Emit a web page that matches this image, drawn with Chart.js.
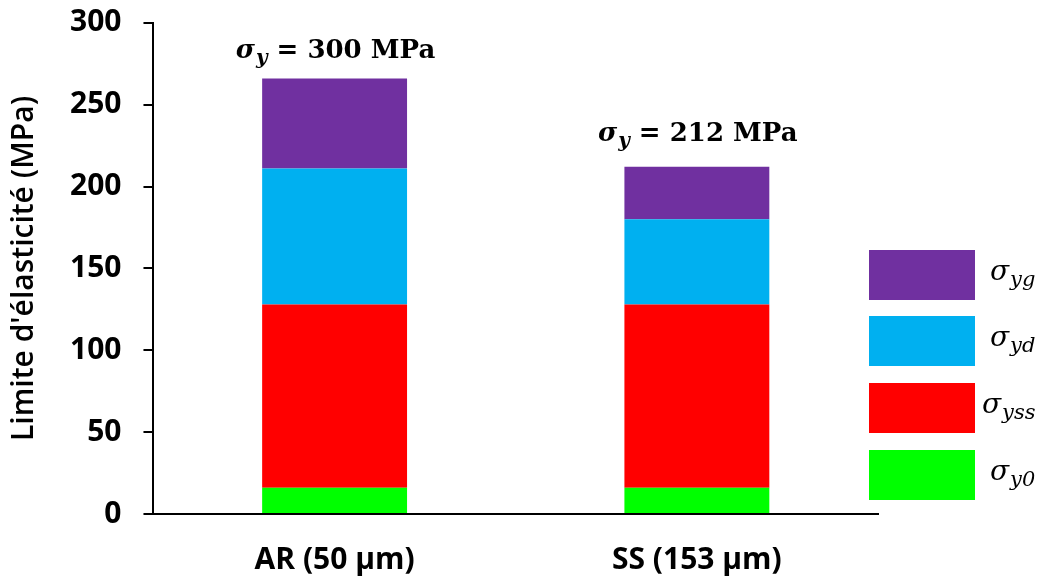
<!DOCTYPE html>
<html>
<head>
<meta charset="utf-8">
<script src="https://cdn.jsdelivr.net/npm/chart.js@4.4.0/dist/chart.umd.min.js"></script>
<style>
  html, body { margin: 0; padding: 0; background: #fff; }
  #wrap { width: 1037px; height: 579px; }
</style>
</head>
<body>
<div id="wrap"><canvas id="yieldChart"></canvas></div>
<script>
const categories = ['AR (50 µm)', 'SS (153 µm)'];
const sigmaY0 = [16, 16];
const sigmaYss = [112, 112];
const sigmaYd = [83, 52];
const sigmaYg = [55, 32];
const totalLabels = ['300', '212'];
const seriesSubs = ['y0', 'yss', 'yd', 'yg'];

const sansFont = "'Open Sans', sans-serif";
const serifFont = "'DejaVu Serif', 'Liberation Serif', serif";

// sigma + subscript, returns x where it ends
function drawSigma(ctx, x, y, sub, size, bold, italic) {
    const style = (italic ? 'italic ' : '') + (bold ? 'bold ' : '');
    ctx.font = style + size + 'px ' + serifFont;
    ctx.textBaseline = 'alphabetic';
    ctx.textAlign = 'left';
    ctx.fillText('σ', x, y);
    const w = ctx.measureText('σ').width;
    ctx.font = style + Math.round(size * 0.75) + 'px ' + serifFont;
    ctx.fillText(sub, x + w + 1, y + size * 0.22);
    return x + w + 1 + ctx.measureText(sub).width;
}

const overlayPlugin = {
    id: 'overlay',
    afterDraw(chart) {
        const ctx = chart.ctx;
        const xs = chart.scales.x;
        const ys = chart.scales.y;
        ctx.save();
        ctx.fillStyle = '#000';

        // totals above the bars
        categories.forEach((c, i) => {
            const top = sigmaY0[i] + sigmaYss[i] + sigmaYd[i] + sigmaYg[i];
            const cx = xs.getPixelForValue(i);
            const base = ys.getPixelForValue(top) - (i === 0 ? 20 : 26);
            const rest = ' = ' + totalLabels[i] + ' MPa';
            ctx.font = 'bold 26px ' + serifFont;
            const restW = ctx.measureText(rest).width;
            const sigW = 30;
            const start = cx - (sigW + restW) / 2;
            const end = drawSigma(ctx, start, base, 'y', 26, true, true);
            ctx.font = 'bold 26px ' + serifFont;
            ctx.fillText(rest, end, base);
        });

        // legend on the right, top entry is the last dataset
        const ds = chart.data.datasets;
        const boxX = 869, boxW = 106, boxH = 50;
        const tops = [250, 316, 383, 450];
        for (let k = 0; k < ds.length; k++) {
            const idx = ds.length - 1 - k;
            ctx.fillStyle = ds[idx].backgroundColor;
            ctx.fillRect(boxX, tops[k], boxW, boxH);
            ctx.fillStyle = '#000';
            drawSigma(ctx, idx === 1 ? 982 : 990, tops[k] + 30, seriesSubs[idx], 28, false, true);
        }
        ctx.restore();
    }
};

new Chart(document.getElementById('yieldChart').getContext('2d'), {
    type: 'bar',
    data: {
        labels: categories,
        datasets: [
            { label: 'σy0', data: sigmaY0, backgroundColor: '#00FF00' },
            { label: 'σyss', data: sigmaYss, backgroundColor: '#FF0000' },
            { label: 'σyd', data: sigmaYd, backgroundColor: '#00B0F0' },
            { label: 'σyg', data: sigmaYg, backgroundColor: '#7030A0' }
        ]
    },
    options: {
        responsive: true,
        maintainAspectRatio: false,
        animation: false,
        datasets: { bar: { categoryPercentage: 1, barPercentage: 0.4, borderWidth: 0 } },
        layout: { padding: { top: 0, right: 159, left: 0, bottom: -19 } },
        plugins: { legend: { display: false }, tooltip: { enabled: false } },
        scales: {
            x: {
                stacked: true,
                grid: { display: false },
                border: { display: true, color: '#000', width: 2 },
                ticks: { color: '#000', padding: 20, font: { family: sansFont, size: 30, weight: 'bold' } }
            },
            y: {
                stacked: true,
                min: 0,
                max: 300,
                // tiny lineHeight so the top of the axis is not pushed down
                ticks: { stepSize: 50, color: '#000', padding: 22, font: { family: sansFont, size: 30, weight: 'bold', lineHeight: 0.05 } },
                grid: { display: true, drawOnChartArea: false, drawTicks: true, tickLength: 10, color: '#000', lineWidth: 2 },
                border: { display: true, color: '#000', width: 2 },
                title: { display: true, text: "Limite d'élasticité (MPa)", color: '#000', padding: 6, font: { family: sansFont, size: 30, weight: '600' } }
            }
        }
    },
    plugins: [overlayPlugin]
});
</script>
</body>
</html>
